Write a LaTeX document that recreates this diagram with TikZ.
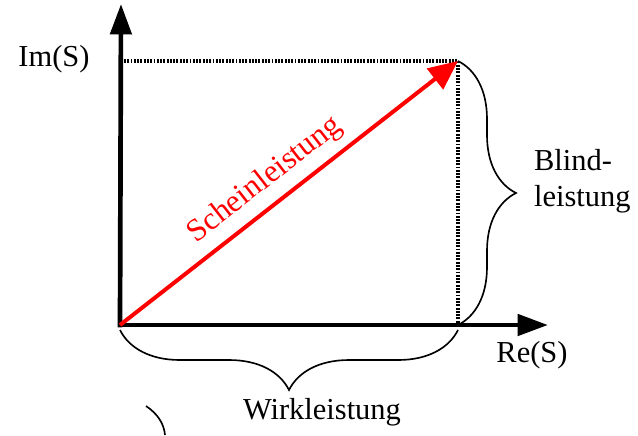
\documentclass[tikz,border=0pt]{standalone}
\usepackage{fontspec}
\setmainfont{Liberation Serif}
\usetikzlibrary{arrows.meta,decorations.pathreplacing}
\tikzset{
  axis/.style={line width=4pt, -{Triangle[length=26pt,width=18pt]}},
  guide/.style={line width=2.6pt, dash pattern=on 1.6pt off 1.2pt},
  bracket/.style={line width=1.4pt, decorate, decoration={brace,amplitude=#1}},
  lbl/.style={font=\fontsize{26}{31}\selectfont}
}
\begin{document}
\begin{tikzpicture}[x=0.03cm,y=-0.03cm]
\useasboundingbox (0,0) rectangle (638,435);
\coordinate (O) at (120,325);
\coordinate (S) at (458,61);
\coordinate (X) at (548,325);
\coordinate (Y) at (121,4);
\coordinate (Sx) at (458,325);
\coordinate (Sy) at (124,61);

\draw[guide] (Sy) -- (S) -- (Sx);
\draw[axis] ([xshift=-2pt]O) -- (X);
\draw[axis] ([yshift=-2pt]O) -- (Y);
\draw[red, line width=3.4pt, -{Triangle[length=25pt,width=22pt]}] (O) -- (S)
  node[lbl, pos=0.475, sloped, above=4pt, red, font=\fontsize{27}{32}\selectfont] (schein) {Scheinleistung};

\draw[bracket=1.74cm] (S) -- (Sx);
\draw[bracket=1.8cm] (458,330) -- (120,330);

\node[lbl, anchor=center] (im) at (54,59) {Im(S)};
\node[lbl, anchor=center] (re) at (532,355) {Re(S)};
\node[lbl, anchor=west, align=left] (blind) at (530,181) {Blind-\\leistung};
\node[lbl, anchor=center] (wirk) at (322,412) {Wirkleistung};

\draw[line width=1.4pt] (146,406) .. controls (158,414) and (164,424) .. (165,435);
\end{tikzpicture}
\end{document}
